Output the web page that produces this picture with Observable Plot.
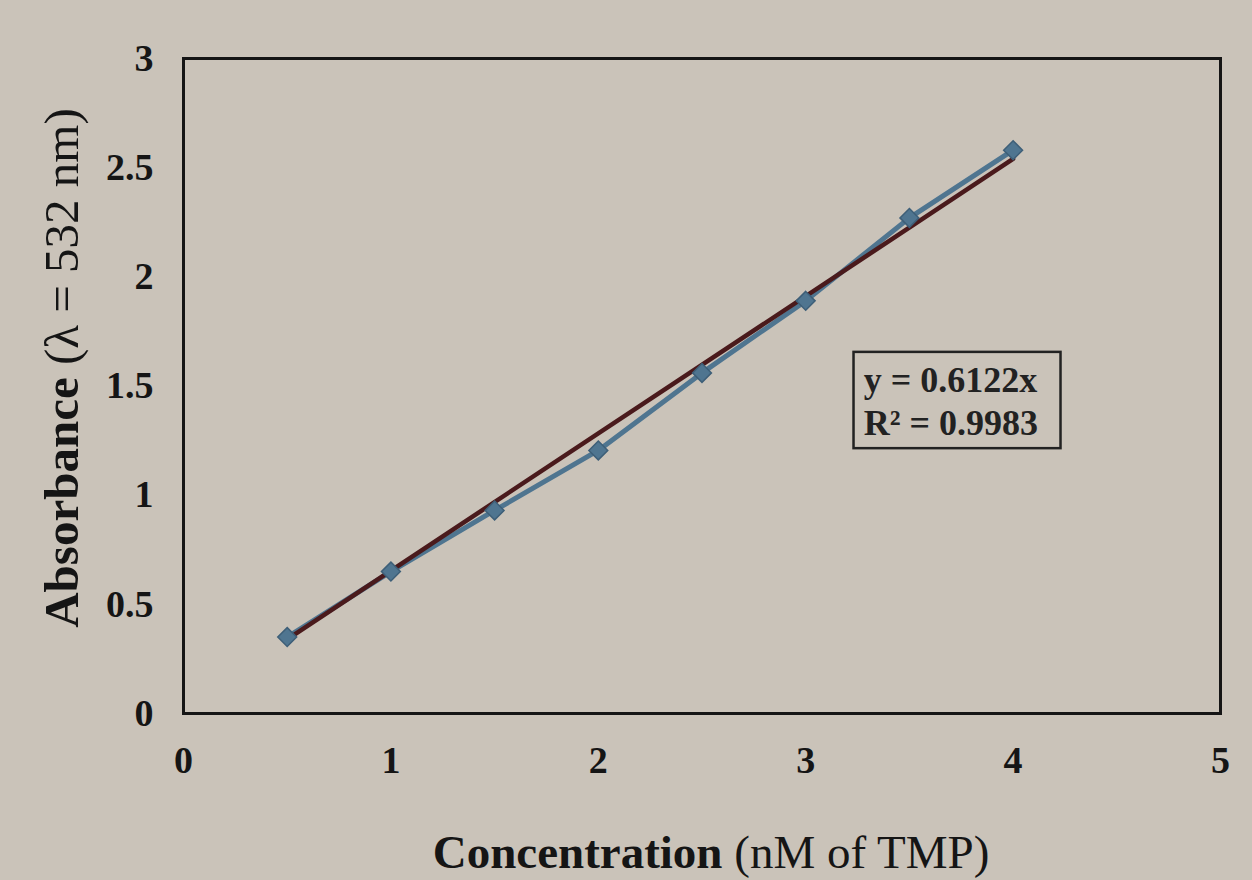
<!DOCTYPE html>
<html><head><meta charset="utf-8">
<script src="https://cdn.jsdelivr.net/npm/d3@7"></script>
<script src="https://cdn.jsdelivr.net/npm/@observablehq/plot@0.6"></script>
<style>
html,body{margin:0;padding:0;background:#cac3b9;}
#chart svg{display:block;}
</style></head>
<body><div id="chart"></div>
<script>
// Data
const concentration = [0.5, 1, 1.5, 2, 2.5, 3, 3.5, 4];
const absorbance   = [0.35, 0.65, 0.93, 1.205, 1.56, 1.89, 2.27, 2.58];
const trendX = [0.5, 4];
const trendY = [0.34, 2.54];
const xTicks = [0, 1, 2, 3, 4, 5];
const yTicks = [0, 0.5, 1, 1.5, 2, 2.5, 3];
const equationLines = ["y = 0.6122x", "R\u00b2 = 0.9983"];
const equationBox = {x1: 3.233, x2: 4.231, y1: 1.213, y2: 1.654};
const equationTextX = 3.28;
const equationTextY = [1.527, 1.33];

const points = concentration.map((c, i) => ({x: c, y: absorbance[i]}));
const trend = trendX.map((x, i) => ({x, y: trendY[i]}));
const eq = equationLines.map((t, i) => ({t, y: equationTextY[i]}));

const serif = "'Liberation Serif', 'DejaVu Serif', serif";

const plot = Plot.plot({
  width: 1252, height: 880,
  marginLeft: 183, marginRight: 32, marginTop: 58, marginBottom: 167,
  style: {background: "#cac3b9", fontFamily: serif, fontSize: "38px", fontWeight: "bold", color: "#151515"},
  x: {domain: [0, 5], ticks: xTicks, tickSize: 0, tickPadding: 33, label: null, tickFormat: d3.format("")},
  y: {domain: [0, 3], ticks: yTicks, tickSize: 0, tickPadding: 30, label: null, tickFormat: d3.format("")},
  marks: [
    Plot.frame({stroke: "#151515", strokeWidth: 3}),
    Plot.line(points, {x: "x", y: "y", stroke: "#4f7590", strokeWidth: 5}),
    Plot.line(trend, {x: "x", y: "y", stroke: "#4a1a1c", strokeWidth: 4.5}),
    Plot.dot(points, {x: "x", y: "y", symbol: "diamond2", r: 8.5, fill: "#4f7590", stroke: "#3e5f78", strokeWidth: 1.5}),
    Plot.rect([equationBox], {x1: "x1", x2: "x2", y1: "y1", y2: "y2", fill: "none", stroke: "#222", strokeWidth: 2.5}),
    Plot.text(eq, {x: equationTextX, y: "y", text: "t", textAnchor: "start", fontSize: 36, fontWeight: "bold", fill: "#222"})
  ]
});

const svg = d3.select(plot);
// Y axis title with mixed weights
svg.append("text")
  .attr("transform", "translate(78,368) rotate(-90)")
  .attr("text-anchor", "middle")
  .attr("font-family", serif).attr("font-size", 49).attr("fill", "#151515")
  .call(t => {
    t.append("tspan").attr("font-weight", "bold").text("Absorbance");
    t.append("tspan").attr("font-weight", "normal").text(" (\u03bb = 532 nm)");
  });
// X axis title
svg.append("text")
  .attr("x", 711).attr("y", 868)
  .attr("text-anchor", "middle")
  .attr("font-family", serif).attr("font-size", 47).attr("fill", "#151515")
  .call(t => {
    t.append("tspan").attr("font-weight", "bold").text("Concentration");
    t.append("tspan").attr("font-weight", "normal").text(" (nM of TMP)");
  });

document.getElementById("chart").appendChild(plot);
</script>
</body></html>
